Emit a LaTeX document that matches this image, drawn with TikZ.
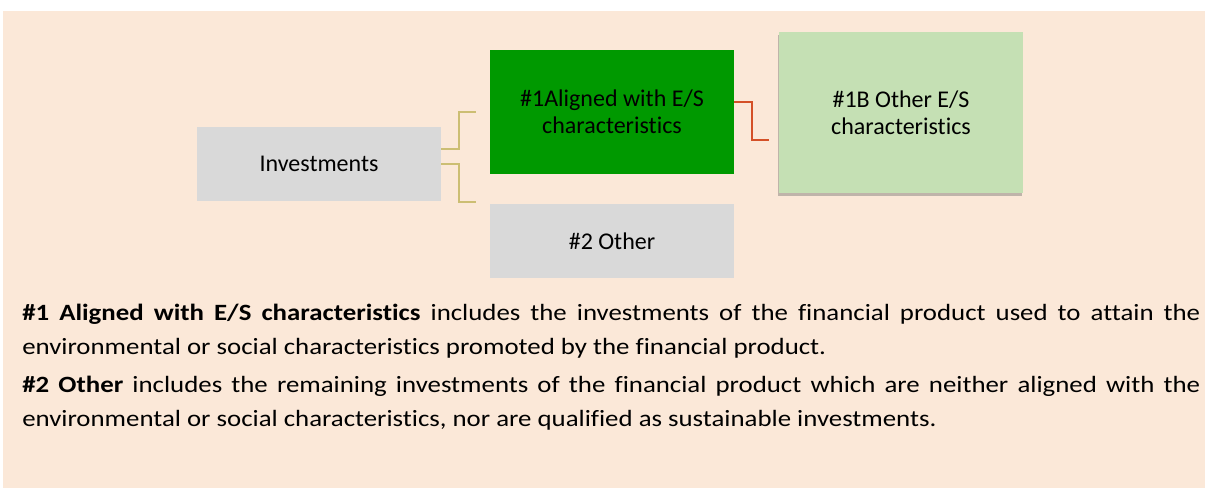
\documentclass[tikz,border=0pt]{standalone}
\usepackage{fontspec}
\setmainfont{Carlito}[Ligatures=NoCommon]
\newfontfamily\notefont{Carlito}[Ligatures=NoCommon, FakeStretch=1.15, HyphenChar=None]
\usetikzlibrary{shadows,calc}

\definecolor{peach}{RGB}{251,232,216}
\definecolor{boxgray}{RGB}{217,217,217}
\definecolor{esgreen}{RGB}{0,153,0}
\definecolor{lightgreen}{RGB}{197,224,180}
\definecolor{linkgold}{RGB}{204,190,115}
\definecolor{linkred}{RGB}{212,80,40}

\tikzset{
  box/.style={inner sep=0pt, minimum width=183pt, align=center, font=\fontsize{18}{20.5}\selectfont},
  goldlink/.style={color=linkgold, line width=1pt},
  redlink/.style={color=linkred, line width=1.1pt},
  note/.style={anchor=base west, inner sep=0pt, text width=883.5pt, align=justify,
    font=\notefont\fontsize{17.5}{25.9}\selectfont},
}

\begin{document}
\begin{tikzpicture}[x=0.75pt,y=0.75pt,yscale=-1,xscale=1]
\useasboundingbox (0,0) rectangle (1205,488);

%Shape: Rectangle [background]
\fill [peach] (3,11) rectangle (1205,488);

%Shape: Rectangle [Investments]
\node [box, fill=boxgray, minimum height=55.5pt] (inv) at (319,164) {Investments};
%Shape: Rectangle [#1]
\node [box, fill=esgreen, minimum height=93pt] (es) at (612,112) {\#1Aligned with E/S\\characteristics};
%Shape: Rectangle [#2]
\node [box, fill=boxgray, minimum height=55.5pt] (other) at (612,241) {\#2 Other};
%Shape: Rectangle [#1B]
\node [box, fill=lightgreen, minimum height=120.75pt,
  drop shadow={shadow xshift=-1pt, shadow yshift=-2pt, opacity=0.4, fill=black!60}] (esb) at (901,112.5) {\#1B Other E/S\\characteristics};

%Straight Lines [free ends]
\coordinate (esend) at (476,112);
\coordinate (otherend) at (476,202);
\coordinate (esbend) at (769,140);

%Straight Lines [Investments to #1]
\draw [goldlink] ($(inv.east)+(0,-15)$) -| (459,130) |- (esend);
%Straight Lines [Investments to #2]
\draw [goldlink] (inv.east) -| (459,180) |- (otherend);
%Straight Lines [#1 to #1B]
\draw [redlink] ($(es.east)+(0,-10)$) -| (752,120) |- (esbend);

% Text Node
\node [note] (note1) at (22,320) {\textbf{\#1 Aligned with E/S characteristics} includes the investments of the financial product used to attain the environmental or social characteristics promoted by the financial product.};
% Text Node
\node [note] (note2) at (22,392) {\textbf{\#2 Other} includes the remaining investments of the financial product which are neither aligned with the environmental or social characteristics, nor are qualified as sustainable investments.};

\end{tikzpicture}
\end{document}
